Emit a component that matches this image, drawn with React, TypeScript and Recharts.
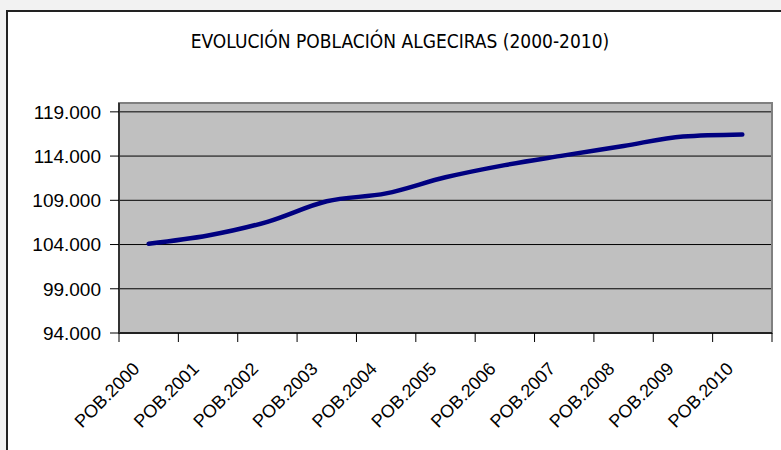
import React from 'react';
import { LineChart, Line, XAxis, YAxis, CartesianGrid, ReferenceArea } from 'recharts';

const CATEGORIES = [
  'POB.2000', 'POB.2001', 'POB.2002', 'POB.2003', 'POB.2004', 'POB.2005',
  'POB.2006', 'POB.2007', 'POB.2008', 'POB.2009', 'POB.2010',
];
const POBLACION = [104100, 105020, 106570, 108890, 109780, 111600, 112980, 114080, 115140, 116210, 116440];
const Y_TICKS = [94000, 99000, 104000, 109000, 114000, 119000];
const Y_DOMAIN = [94000, 120000];

// numeric x positions so ticks can sit between the categories (like Excel)
const data = CATEGORIES.map((name, i) => ({ idx: i, name, value: POBLACION[i] }));
const xTicks: number[] = [];
for (let i = 0; i <= CATEGORIES.length * 2; i++) xTicks.push(i / 2 - 0.5);

const fmt = (v: number) => String(v).replace(/\B(?=(\d{3})+(?!\d))/g, '.');

const XTick = ({ x, y, payload }: any) => {
  const v = payload.value;
  if (!Number.isInteger(v)) {
    return <line x1={x} y1={y} x2={x} y2={y + 9} stroke="#000" strokeWidth={1} />;
  }
  const ax = x - 8;
  const ay = y + 37;
  return (
    <text
      x={ax}
      y={ay}
      transform={`rotate(-45, ${ax}, ${ay})`}
      textAnchor="end"
      fontSize={18}
      fontFamily="'Liberation Sans', Arial, sans-serif"
      fill="#000"
    >
      {CATEGORIES[v]}
    </text>
  );
};

const App: React.FC = () => {
  return (
    <div style={{ position: 'fixed', inset: 0, background: '#f2f2f2', overflow: 'hidden' }}>
      <div
        style={{
          position: 'absolute',
          left: 6,
          top: 10,
          width: 800,
          height: 460,
          border: '2px solid #222',
          background: '#fff',
          boxSizing: 'border-box',
        }}
      />
      <div
        style={{
          position: 'absolute',
          left: 0,
          top: 29,
          width: 800,
          textAlign: 'center',
          fontFamily: "'Liberation Sans Narrow', 'DejaVu Sans Condensed', sans-serif",
          fontSize: 19,
          lineHeight: '24px',
          color: '#000',
        }}
      >
        EVOLUCIÓN POBLACIÓN ALGECIRAS (2000-2010)
      </div>
      <div style={{ position: 'absolute', left: 0, top: 0 }}>
        <LineChart
          width={781}
          height={450}
          data={data}
          margin={{ top: 103, right: 9, bottom: 17, left: 19 }}
        >
          <CartesianGrid vertical={false} fill="#c0c0c0" stroke="#000" strokeOpacity={1} />
          <ReferenceArea y1={Y_DOMAIN[0]} y2={Y_DOMAIN[1]} fill="none" stroke="#808080" strokeWidth={2} ifOverflow="visible" />
          <XAxis
            dataKey="idx"
            type="number"
            domain={[-0.5, CATEGORIES.length - 0.5]}
            ticks={xTicks}
            interval={0}
            height={100}
            tickSize={0}
            tickMargin={0}
            tickLine={false}
            axisLine={{ stroke: '#222', strokeWidth: 2 }}
            tick={<XTick />}
          />
          <YAxis
            type="number"
            domain={Y_DOMAIN}
            ticks={Y_TICKS}
            allowDataOverflow
            width={100}
            tickSize={9}
            tickMargin={9}
            tickFormatter={fmt}
            tickLine={{ stroke: '#000' }}
            axisLine={{ stroke: '#333', strokeWidth: 2 }}
            tick={{ fill: '#000', fontSize: 19, fontFamily: "'Liberation Sans', Arial, sans-serif" }}
          />
          <Line
            type="monotone"
            dataKey="value"
            stroke="#000080"
            strokeWidth={4.5}
            strokeLinecap="round"
            dot={false}
            activeDot={false}
            isAnimationActive={false}
          />
        </LineChart>
      </div>
    </div>
  );
};

export default App;
